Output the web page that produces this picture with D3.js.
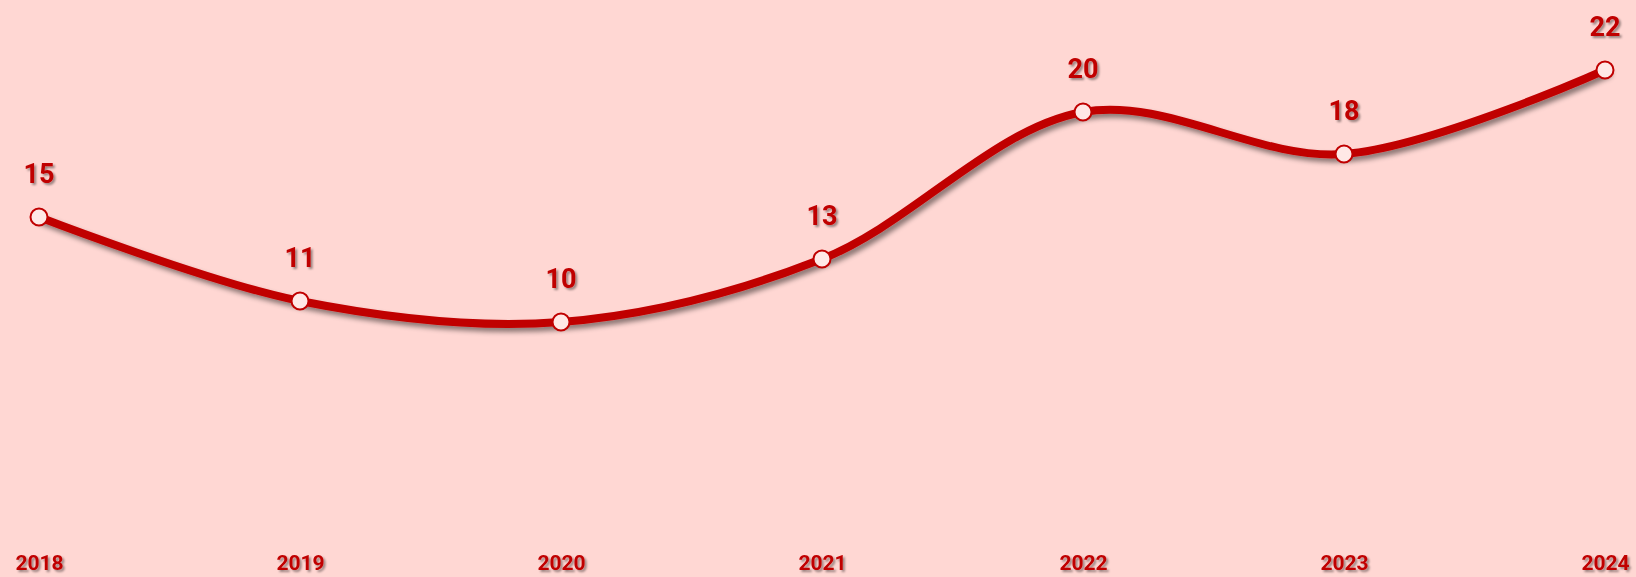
<!DOCTYPE html>
<html>
<head>
<meta charset="utf-8">
<script src="https://cdn.jsdelivr.net/npm/d3@7"></script>
<style>
  html, body { margin: 0; padding: 0; background: #FFD7D3; }
  svg { display: block; }
  text { font-family: Roboto, "DejaVu Sans Condensed", sans-serif; font-weight: bold; fill: #C00000; }
</style>
</head>
<body>
<div id="chart"></div>
<script>
// chart data
var years = ["2018", "2019", "2020", "2021", "2022", "2023", "2024"];
var values = [15, 11, 10, 13, 20, 18, 22];

var width = 1636,
    height = 577;

var svg = d3.select("#chart")
  .append("svg")
    .attr("width", width)
    .attr("height", height);

// drop shadows
var defs = svg.append("defs");
var f = defs.append("filter").attr("id", "shadow")
    .attr("x", "-10%").attr("y", "-10%").attr("width", "120%").attr("height", "140%");
f.append("feDropShadow")
    .attr("dx", 3).attr("dy", 4).attr("stdDeviation", 2.5)
    .attr("flood-color", "#000").attr("flood-opacity", 0.45);

var ft = defs.append("filter").attr("id", "tshadow")
    .attr("x", "-20%").attr("y", "-20%").attr("width", "150%").attr("height", "160%");
ft.append("feDropShadow")
    .attr("dx", 2).attr("dy", 2).attr("stdDeviation", 1.2)
    .attr("flood-color", "#000").attr("flood-opacity", 0.4);

var x = d3.scalePoint()
    .domain(years)
    .range([39, 1605]);

var y = d3.scaleLinear()
    .domain([0, 24])
    .range([532, 28]);

var data = years.map(function(d, i) { return {year: d, value: values[i]}; });

var line = d3.line()
    .x(function(d) { return x(d.year); })
    .y(function(d) { return y(d.value); })
    .curve(d3.curveCatmullRom.alpha(0.5));

svg.append("path")
    .datum(data)
    .attr("d", line)
    .attr("fill", "none")
    .attr("stroke", "#C00000")
    .attr("stroke-width", 8)
    .attr("stroke-linecap", "round")
    .attr("filter", "url(#shadow)");

svg.selectAll("circle.pt")
  .data(data)
  .enter().append("circle")
    .attr("class", "pt")
    .attr("cx", function(d) { return x(d.year); })
    .attr("cy", function(d) { return y(d.value); })
    .attr("r", 8.5)
    .attr("fill", "#FFE8E6")
    .attr("stroke", "#C00000")
    .attr("stroke-width", 2);

// value labels
svg.selectAll("text.val")
  .data(data)
  .enter().append("text")
    .attr("class", "val")
    .attr("x", function(d) { return x(d.year); })
    .attr("y", function(d) { return y(d.value) - 34; })
    .attr("text-anchor", "middle")
    .attr("font-size", 27)
    .attr("filter", "url(#tshadow)")
    .text(function(d) { return d.value; });

// x axis labels
var xAxis = d3.axisBottom(x).tickSize(0).tickPadding(0);
var gx = svg.append("g")
    .attr("transform", "translate(0,570)")
    .call(xAxis);
gx.select(".domain").remove();
gx.selectAll("text")
    .attr("font-size", 21)
    .attr("dy", "0")
    .attr("filter", "url(#tshadow)")
    .style("font-family", "Roboto, \"DejaVu Sans Condensed\", sans-serif")
    .style("fill", "#C00000");
</script>
</body>
</html>
